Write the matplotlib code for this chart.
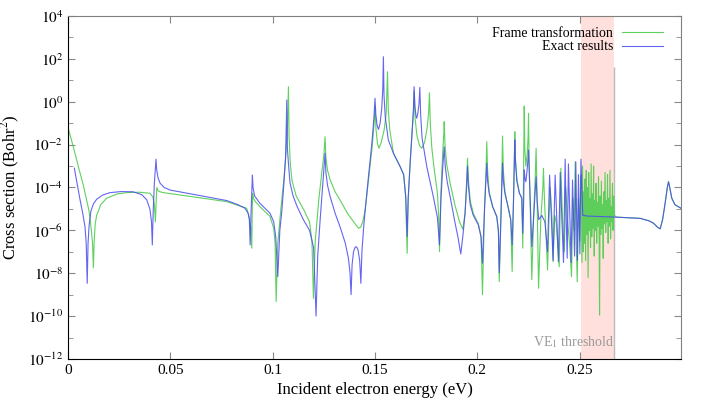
import numpy as np
import matplotlib
matplotlib.use("Agg")
from matplotlib import pyplot as plt

# (energy in eV, log10 of cross section in Bohr^2)

# frame transformation below the VE1 threshold
ft_points = [
    (0.0001, -1.24), (0.0026, -2.10), (0.0050, -3.00), (0.0075, -3.90), (0.0091, -4.58),
    (0.0103, -5.10), (0.0112, -5.80), (0.0120, -6.60), (0.0124, -7.75), (0.0128, -6.50),
    (0.0133, -5.70), (0.0140, -5.30), (0.0160, -4.80), (0.0189, -4.50), (0.0240, -4.30),
    (0.0287, -4.24), (0.0350, -4.22), (0.0401, -4.27), (0.0415, -4.45), (0.0422, -4.80),
    (0.0427, -5.60), (0.0431, -4.60), (0.0434, -4.00), (0.0440, -4.15), (0.0450, -4.20),
    (0.0466, -4.24), (0.0600, -4.42), (0.0700, -4.55), (0.0776, -4.66), (0.0873, -4.97),
    (0.0886, -5.40), (0.0893, -5.90), (0.0898, -6.83), (0.0900, -5.20), (0.0902, -4.27),
    (0.0906, -4.50), (0.0915, -4.65), (0.0938, -4.90), (0.0987, -5.35), (0.1005, -5.90),
    (0.1012, -6.60), (0.1017, -9.32), (0.1025, -6.60), (0.1040, -5.00), (0.1055, -3.60),
    (0.1065, -2.40), (0.1072, -1.20), (0.1077, 0.70), (0.1080, -1.60), (0.1086, -2.90),
    (0.1095, -3.70), (0.1115, -4.40), (0.1150, -5.00), (0.1180, -5.60), (0.1192, -6.50),
    (0.1199, -9.17), (0.1208, -6.50), (0.1225, -4.60), (0.1240, -3.30), (0.1250, -2.50),
    (0.1256, -1.63), (0.1260, -2.60), (0.1268, -3.20), (0.1281, -3.65), (0.1305, -4.20),
    (0.1329, -4.58), (0.1365, -5.20), (0.1403, -5.70), (0.1420, -5.90), (0.1430, -5.85),
    (0.1440, -5.60), (0.1452, -5.05), (0.1470, -3.50), (0.1485, -2.20), (0.1495, -1.10),
    (0.1500, -0.23), (0.1505, -1.30), (0.1512, -1.95), (0.1519, -2.17), (0.1530, -1.90),
    (0.1545, -1.30), (0.1555, -0.50), (0.1561, 1.40), (0.1565, -0.40), (0.1572, -1.30),
    (0.1590, -2.40), (0.1623, -3.03), (0.1640, -3.40), (0.1650, -4.50), (0.1657, -7.07),
    (0.1662, -4.60), (0.1672, -2.80), (0.1682, -1.30), (0.1688, -0.40), (0.1691, 0.50),
    (0.1696, -0.80), (0.1705, -1.60), (0.1718, -2.05), (0.1729, -2.17), (0.1742, -1.90),
    (0.1755, -1.20), (0.1762, -0.50), (0.1766, 0.42), (0.1770, -1.00), (0.1778, -2.20),
    (0.1790, -3.20), (0.1805, -4.27), (0.1811, -5.30), (0.1815, -6.99), (0.1822, -4.20),
    (0.1830, -2.50), (0.1836, -1.50), (0.1838, -0.93), (0.1842, -2.00), (0.1850, -2.90),
    (0.1867, -3.80), (0.1890, -4.80), (0.1913, -5.60), (0.1929, -5.95), (0.1940, -5.20),
    (0.1947, -3.80), (0.1952, -2.64), (0.1956, -3.60), (0.1965, -4.60), (0.1980, -5.20),
    (0.2005, -5.70), (0.2018, -6.30), (0.2025, -9.00), (0.2035, -5.00), (0.2042, -3.30),
    (0.2046, -1.86), (0.2050, -3.20), (0.2058, -4.20), (0.2075, -4.90), (0.2095, -5.36),
    (0.2103, -6.10), (0.2107, -8.39), (0.2115, -5.50), (0.2120, -3.30), (0.2123, -1.60),
    (0.2127, -3.20), (0.2135, -4.20), (0.2150, -4.90), (0.2163, -5.50), (0.2170, -7.92),
    (0.2177, -4.50), (0.2181, -2.60), (0.2183, -1.40), (0.2186, -2.60), (0.2193, -3.60),
    (0.2205, -4.25), (0.2217, -4.50), (0.2222, -6.83), (0.2226, -3.00), (0.2229, -0.20),
    (0.2232, -2.20), (0.2237, -3.00), (0.2244, -2.40), (0.2248, -1.60), (0.2250, -0.54),
    (0.2253, -2.80), (0.2258, -4.80), (0.2266, -8.30), (0.2276, -5.00), (0.2283, -3.50),
    (0.2287, -2.17), (0.2291, -4.00), (0.2299, -8.70), (0.2310, -5.50), (0.2320, -4.00),
    (0.2323, -3.10), (0.2328, -4.60), (0.2343, -7.85), (0.2350, -5.50), (0.2356, -4.00),
    (0.2365, -5.50), (0.2370, -7.46), (0.2378, -5.30), (0.2385, -5.60), (0.2400, -7.70),
    (0.2408, -3.10), (0.2416, -5.50), (0.2425, -7.00), (0.2432, -4.00), (0.2440, -5.50),
    (0.2452, -6.80), (0.2460, -8.16), (0.2467, -4.50), (0.2473, -6.00), (0.2478, -2.80),
    (0.2483, -6.50), (0.2488, -8.40), (0.2494, -4.50), (0.2500, -6.50), (0.2505, -3.50),
]

# frame transformation inside the shaded band and above it
ft_thr_points = [
    (0.2508, -3.4), (0.2511, -7.5), (0.2514, -3.0), (0.2517, -7.0), (0.2520, -4.2),
    (0.2523, -6.6), (0.2526, -3.6), (0.2529, -7.4), (0.2532, -3.2), (0.2535, -6.2),
    (0.2538, -4.0), (0.2541, -8.2), (0.2544, -3.3), (0.2547, -6.0), (0.2550, -4.5),
    (0.2553, -6.8), (0.2556, -2.9), (0.2559, -6.3), (0.2562, -4.3), (0.2565, -5.9),
    (0.2568, -3.0), (0.2571, -7.2), (0.2574, -4.6), (0.2577, -6.0), (0.2580, -3.8),
    (0.2583, -6.6), (0.2586, -4.7), (0.2589, -5.8), (0.2592, -3.5), (0.2595, -6.5),
    (0.2597, -9.95), (0.2600, -4.4), (0.2603, -6.2), (0.2606, -3.7), (0.2609, -5.9),
    (0.2612, -4.8), (0.2615, -7.3), (0.2618, -4.2), (0.2621, -5.7), (0.2624, -3.3),
    (0.2627, -6.1), (0.2630, -4.6), (0.2633, -5.6), (0.2636, -3.4), (0.2639, -6.6),
    (0.2642, -4.5), (0.2645, -5.8), (0.2648, -3.2), (0.2651, -6.4), (0.2654, -4.9),
    (0.2657, -5.6), (0.2660, -3.8), (0.2663, -6.0), (0.2666, -4.4), (0.2669, -5.3),
    (0.2680, -5.38), (0.2796, -5.44), (0.2840, -5.56), (0.2861, -5.67), (0.2880, -5.85),
    (0.2893, -5.93), (0.2905, -5.50), (0.2918, -4.70), (0.2928, -4.00), (0.2934, -3.73),
    (0.2940, -4.00), (0.2950, -4.50), (0.2965, -4.80), (0.2995, -4.97),
]

# exact results
ex_points = [
    (0.0031, -3.10), (0.0045, -3.85), (0.0059, -4.58), (0.0072, -5.20), (0.0083, -5.83),
    (0.0089, -6.60), (0.0094, -8.47), (0.0098, -6.60), (0.0103, -5.80), (0.0112, -5.10),
    (0.0125, -4.75), (0.0140, -4.55), (0.0170, -4.35), (0.0205, -4.24), (0.0260, -4.19),
    (0.0318, -4.20), (0.0360, -4.33), (0.0385, -4.58), (0.0400, -5.00), (0.0408, -5.60),
    (0.0412, -6.68), (0.0416, -5.20), (0.0422, -3.80), (0.0427, -3.10), (0.0430, -2.68),
    (0.0433, -3.15), (0.0440, -3.55), (0.0450, -3.80), (0.0470, -4.00), (0.0499, -4.12),
    (0.0600, -4.30), (0.0700, -4.48), (0.0776, -4.61), (0.0830, -4.80), (0.0865, -4.97),
    (0.0880, -5.20), (0.0886, -5.50), (0.0890, -6.68), (0.0895, -5.00), (0.0899, -4.00),
    (0.0901, -3.42), (0.0904, -4.00), (0.0912, -4.40), (0.0938, -4.74), (0.0987, -5.20),
    (0.1005, -5.60), (0.1015, -6.30), (0.1025, -8.16), (0.1035, -6.00), (0.1044, -5.19),
    (0.1055, -3.80), (0.1063, -2.60), (0.1069, 0.08), (0.1072, -2.20), (0.1078, -3.00),
    (0.1085, -3.80), (0.1100, -4.40), (0.1120, -4.90), (0.1150, -5.50), (0.1180, -6.00),
    (0.1200, -6.80), (0.1212, -10.00), (0.1220, -7.20), (0.1232, -5.50), (0.1245, -3.80),
    (0.1252, -2.90), (0.1256, -2.40), (0.1260, -3.30), (0.1268, -3.90), (0.1281, -4.43),
    (0.1305, -5.20), (0.1329, -5.83), (0.1355, -6.60), (0.1370, -7.30), (0.1378, -8.00),
    (0.1383, -9.00), (0.1388, -7.60), (0.1395, -7.00), (0.1402, -6.80), (0.1409, -6.76),
    (0.1417, -6.90), (0.1425, -7.40), (0.1431, -8.47), (0.1436, -7.00), (0.1445, -5.80),
    (0.1452, -5.05), (0.1470, -3.30), (0.1485, -1.90), (0.1495, -0.70), (0.1500, 0.16),
    (0.1504, -0.60), (0.1510, -1.10), (0.1517, -1.29), (0.1525, -1.00), (0.1533, -0.30),
    (0.1538, 0.60), (0.1541, 2.10), (0.1544, 0.30), (0.1550, -0.70), (0.1565, -1.78),
    (0.1590, -2.40), (0.1623, -3.03), (0.1640, -3.40), (0.1650, -4.40), (0.1657, -6.29),
    (0.1662, -4.50), (0.1672, -2.80), (0.1682, -1.30), (0.1688, -0.30), (0.1691, 0.70),
    (0.1695, -0.20), (0.1700, -0.65), (0.1704, -0.77), (0.1709, -0.55), (0.1715, -0.10),
    (0.1719, 0.67), (0.1723, -0.60), (0.1730, -1.70), (0.1753, -3.03), (0.1785, -4.43),
    (0.1805, -5.40), (0.1815, -6.68), (0.1822, -4.60), (0.1830, -3.20), (0.1838, -2.10),
    (0.1843, -3.00), (0.1852, -3.70), (0.1867, -4.43), (0.1890, -5.60), (0.1905, -6.30),
    (0.1919, -7.10), (0.1930, -6.20), (0.1940, -5.20), (0.1948, -3.90), (0.1952, -3.00),
    (0.1956, -3.90), (0.1965, -4.80), (0.1980, -5.30), (0.2005, -5.75), (0.2018, -6.30),
    (0.2025, -7.53), (0.2035, -5.00), (0.2042, -3.70), (0.2046, -2.87), (0.2050, -3.70),
    (0.2058, -4.30), (0.2075, -4.90), (0.2095, -5.36), (0.2103, -6.00), (0.2107, -7.97),
    (0.2115, -5.50), (0.2120, -3.80), (0.2123, -2.87), (0.2127, -3.70), (0.2135, -4.30),
    (0.2150, -4.90), (0.2163, -5.50), (0.2170, -6.68), (0.2177, -4.50), (0.2181, -2.80),
    (0.2183, -1.78), (0.2186, -2.80), (0.2193, -3.70), (0.2205, -4.25), (0.2217, -4.50),
    (0.2222, -6.14), (0.2226, -4.80), (0.2229, -3.18), (0.2233, -3.60), (0.2237, -3.73),
    (0.2243, -3.20), (0.2248, -2.60), (0.2250, -2.25), (0.2253, -3.10), (0.2258, -4.50),
    (0.2266, -6.76), (0.2272, -5.80), (0.2280, -4.60), (0.2287, -3.50), (0.2292, -4.60),
    (0.2300, -5.50), (0.2315, -5.30), (0.2330, -5.60), (0.2343, -7.00), (0.2353, -3.42),
    (0.2362, -5.50), (0.2370, -7.40), (0.2380, -3.42), (0.2388, -5.50), (0.2396, -7.46),
    (0.2405, -3.30), (0.2413, -5.50), (0.2421, -7.50), (0.2429, -2.68), (0.2434, -5.40),
    (0.2439, -7.30), (0.2445, -2.90), (0.2452, -5.40), (0.2458, -7.50), (0.2465, -3.65),
    (0.2470, -5.40), (0.2475, -7.20), (0.2481, -2.80), (0.2485, -5.40), (0.2489, -7.40),
    (0.2494, -3.40), (0.2498, -5.40), (0.2501, -7.10), (0.2506, -2.68), (0.2515, -5.30),
    (0.2535, -5.33), (0.2669, -5.38), (0.2796, -5.44), (0.2840, -5.56), (0.2861, -5.67),
    (0.2880, -5.85), (0.2893, -5.93), (0.2905, -5.50), (0.2918, -4.70), (0.2928, -4.00),
    (0.2934, -3.73), (0.2940, -4.00), (0.2950, -4.50), (0.2965, -4.80), (0.2995, -4.97),
]

ve1_band = (0.2505, 0.2669)

plt.rcParams['font.family'] = ['Liberation Serif', 'DejaVu Serif']
plt.rcParams['mathtext.fontset'] = 'stix'

fig = plt.figure(figsize=(7.06, 4.04), dpi=100)
ax = fig.add_axes([0.0963, 0.1114, 0.8683, 0.849])

ax.axvspan(ve1_band[0], ve1_band[1], color='#ffe0dc', lw=0, zorder=0)
ax.vlines(ve1_band[1], 1e-12, 10 ** 1.6, color='#bbbbbb', lw=1.0, zorder=1)

ft_e, ft_l = zip(*(ft_points + ft_thr_points))
ex_e, ex_l = zip(*ex_points)

l1, = ax.plot(ft_e, 10.0 ** np.array(ft_l), color='#4ccc4c', lw=0.8, alpha=0.9, zorder=2)
l2, = ax.plot(ex_e, 10.0 ** np.array(ex_l), color='#4a4af0', lw=0.8, alpha=0.85, zorder=3)

ax.set_yscale('log')
ax.set_xlim(0, 0.2995)
ax.set_ylim(1e-12, 1e4)
ax.set_xticks([0, 0.05, 0.1, 0.15, 0.2, 0.25])
ax.set_xticklabels(['0', '0.05', '0.1', '0.15', '0.2', '0.25'])
ax.set_yticks([10.0 ** k for k in range(-12, 5, 2)])
ax.set_yticklabels(['$10^{%d}$' % k for k in range(-12, 5, 2)])
ax.set_yticks([10.0 ** k for k in range(-11, 4, 2)], minor=True)
ax.set_yticklabels([], minor=True)
ax.tick_params(which='both', direction='in', top=True, right=True, color='#888888',
               labelsize=11, labelcolor='black')
ax.tick_params(which='major', length=5)
ax.tick_params(which='minor', length=3.5)
ax.tick_params(axis='x', which='minor', bottom=False, top=False)
for s in ['left', 'bottom']:
    ax.spines[s].set_color('black')
for s in ['top', 'right']:
    ax.spines[s].set_color('#808080')

ax.set_xlabel('Incident electron energy (eV)', fontsize=12, labelpad=4)
ax.set_ylabel('Cross section (Bohr$^2$)', fontsize=12, labelpad=4)

ax.text(ve1_band[1] - 0.0002, 10 ** -11.2, 'VE$_1$ threshold', ha='right', va='center',
        color='#999999', fontsize=10)

leg1 = ax.legend([l1], ['Frame transformation'], loc='center right', bbox_to_anchor=(0.971, 0.950),
                 frameon=False, markerfirst=False, fontsize=10, handlelength=2.95,
                 handletextpad=0.65, borderpad=0, borderaxespad=0)
ax.add_artist(leg1)
ax.legend([l2], ['Exact results'], loc='center right', bbox_to_anchor=(0.971, 0.910),
          frameon=False, markerfirst=False, fontsize=10, handlelength=2.95,
          handletextpad=0.65, borderpad=0, borderaxespad=0)

fig.savefig('out.png', dpi=100)
